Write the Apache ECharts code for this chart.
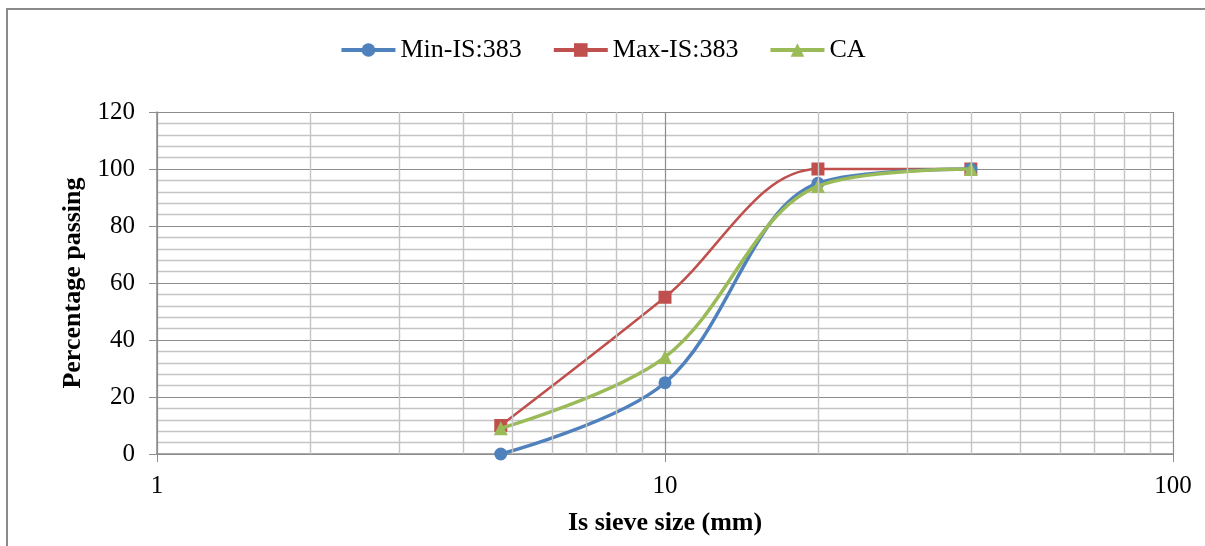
<!DOCTYPE html>
<html>
<head>
<meta charset="utf-8">
<script src="https://cdn.jsdelivr.net/npm/echarts@6/dist/echarts.min.js"></script>
<style>
  html, body { margin: 0; padding: 0; background: #fff; }
  #chart { width: 1205px; height: 546px; }
</style>
</head>
<body>
<div id="chart"></div>
<script>
// sieve sizes (mm) and percentage passing
var sieveSizes = [4.75, 10, 20, 40];
var minIS = [0, 25, 95, 100];
var maxIS = [10, 55, 100, 100];
var caPassing = [9, 34, 94, 100];
// minor vertical grid lines of the log axis
var minorX = [2, 3, 4, 5, 6, 7, 8, 9, 20, 30, 40, 50, 60, 70, 80, 90];

function pairs(xs, ys) {
  return xs.map(function (x, i) { return [x, ys[i]]; });
}

var font = "'Liberation Serif', 'Times New Roman', serif";
var myChart = echarts.init(document.getElementById("chart"));

var option = {
  animation: false,
  backgroundColor: "#fff",
  graphic: [
    {
      type: "polyline",
      shape: { points: [[7, 546], [7, 9], [1205, 9]] },
      style: { stroke: "#8a8a8a", lineWidth: 2, fill: null },
      silent: true,
    },
  ],
  legend: {
    top: 32,
    left: "center",
    itemWidth: 54,
    itemHeight: 17,
    itemGap: 30,
    textStyle: { fontFamily: font, fontSize: 26, color: "#000" },
    lineStyle: { width: 4 },
    data: ["Min-IS:383", "Max-IS:383", "CA"],
  },
  grid: { left: 157, right: 32, top: 112, bottom: 92 },
  xAxis: {
    type: "log",
    logBase: 10,
    min: 1,
    max: 100,
    name: "Is sieve size (mm)",
    nameLocation: "middle",
    nameGap: 56,
    nameTextStyle: { fontFamily: font, fontSize: 26, fontWeight: "bold", color: "#000" },
    axisLine: { lineStyle: { color: "#8c8c8c", width: 1.5 } },
    axisTick: { show: true, length: 8, lineStyle: { color: "#8c8c8c" } },
    axisLabel: { fontFamily: font, fontSize: 25, color: "#000", margin: 20 },
    splitLine: { show: true, lineStyle: { color: "#8c8c8c", width: 1.2 } },
  },
  yAxis: {
    type: "value",
    min: 0,
    max: 120,
    interval: 20,
    name: "Percentage passing",
    nameLocation: "middle",
    nameGap: 70,
    nameTextStyle: { fontFamily: font, fontSize: 26, fontWeight: "bold", color: "#000" },
    axisLine: { show: true, lineStyle: { color: "#8c8c8c", width: 1.5 } },
    axisTick: { show: true, length: 8, lineStyle: { color: "#8c8c8c" } },
    axisLabel: { fontFamily: font, fontSize: 25, color: "#000", margin: 22 },
    splitLine: { show: true, lineStyle: { color: "#8c8c8c", width: 1.2 } },
    minorTick: { show: false, splitNumber: 5 },
    minorSplitLine: { show: true, lineStyle: { color: "#c4c4c4", width: 1.4 } },
  },
  series: [
    {
      name: "grid",
      type: "line",
      data: [],
      z: 1,
      silent: true,
      markLine: {
        silent: true,
        symbol: ["none", "none"],
        label: { show: false },
        lineStyle: { color: "#c4c4c4", type: "solid", width: 1.4 },
        data: minorX.map(function (v) { return { xAxis: v }; }),
      },
    },
    {
      name: "Min-IS:383",
      type: "line",
      smooth: 0.35,
      symbol: "circle",
      symbolSize: 13,
      z: 3,
      itemStyle: { color: "#4f81bd" },
      lineStyle: { color: "#4f81bd", width: 3.5 },
      data: pairs(sieveSizes, minIS),
    },
    {
      name: "Max-IS:383",
      type: "line",
      smooth: 0.35,
      symbol: "rect",
      symbolSize: 13,
      z: 2,
      itemStyle: { color: "#c0504d" },
      lineStyle: { color: "#c0504d", width: 2.5 },
      data: pairs(sieveSizes, maxIS),
    },
    {
      name: "CA",
      type: "line",
      smooth: 0.35,
      symbol: "triangle",
      symbolSize: 14,
      z: 4,
      itemStyle: { color: "#9bbb59" },
      lineStyle: { color: "#9bbb59", width: 3.5 },
      data: pairs(sieveSizes, caPassing),
    },
  ],
};

myChart.setOption(option);
</script>
</body>
</html>
